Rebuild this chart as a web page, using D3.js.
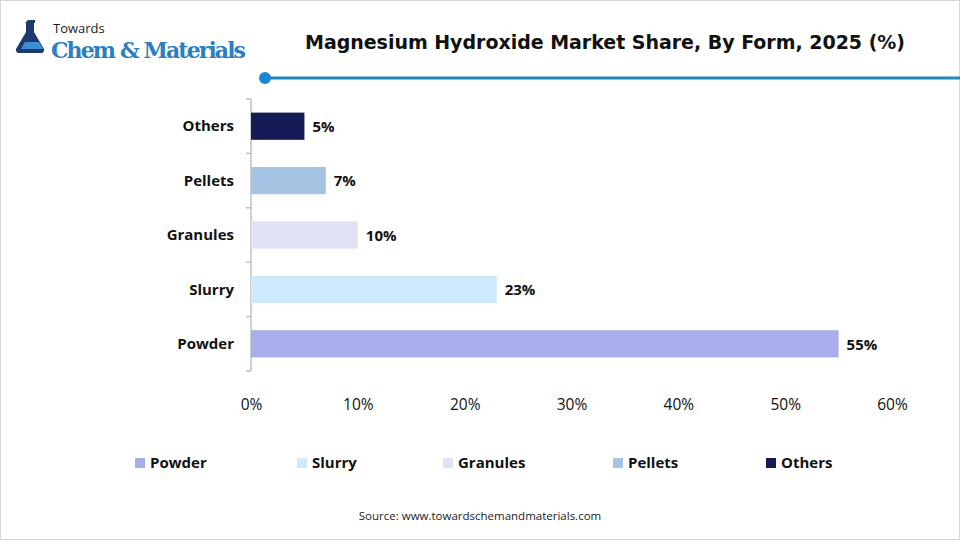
<!DOCTYPE html>
<html>
<head>
<meta charset="utf-8">
<script src="https://cdn.jsdelivr.net/npm/d3@7"></script>
<style>
  body { margin: 0; background: #fff; }
  svg { display: block; font-family: "Open Sans", "DejaVu Sans", sans-serif; }
</style>
</head>
<body>
<div id="chart"></div>
<script>
// Data
const categories = ["Others", "Pellets", "Granules", "Slurry", "Powder"];
const shares = [5, 7, 10, 23, 55];
const barColors = ["#141b56", "#a5c4e4", "#dfe1f5", "#cde9fa", "#a9aeeb"];
const legendOrder = ["Powder", "Slurry", "Granules", "Pellets", "Others"];
const xTicks = [0, 10, 20, 30, 40, 50, 60];

const W = 960, H = 540;
const svg = d3.select("#chart").append("svg")
  .attr("width", W).attr("height", H);

// outer frame
svg.append("rect")
  .attr("x", 0.5).attr("y", 0.5)
  .attr("width", W - 1).attr("height", H - 1)
  .attr("fill", "#fff").attr("stroke", "#d9d9d9");

// ---------- logo ----------
const logo = svg.append("g").attr("transform", "translate(18,18)");
logo.append("path")
  .attr("d", "M10,2 h7 v3 h-1 v9 l10,17 a3,3 0 0 1 -3,4 h-22 a3,3 0 0 1 -3,-4 l10,-17 v-9 h-1 z")
  .attr("fill", "#1d3a6e");
logo.append("path")
  .attr("d", "M7,24 h14 l4,7 h-22 z")
  .attr("fill", "#3d8fd1");
logo.append("text")
  .attr("x", 35).attr("y", 15)
  .attr("font-size", 13).attr("fill", "#222")
  .attr("font-family", "'Open Sans', sans-serif")
  .text("Towards");
logo.append("text")
  .attr("x", 33).attr("y", 40)
  .attr("font-size", 22).attr("font-weight", "bold").attr("fill", "#2a7fc1")
  .attr("font-family", "'DejaVu Serif', 'Liberation Serif', serif")
  .attr("textLength", 195)
  .text("Chem & Materials");

// ---------- title ----------
svg.append("text")
  .attr("x", 605).attr("y", 49)
  .attr("text-anchor", "middle")
  .attr("font-size", 19).attr("font-weight", "bold").attr("fill", "#111")
  .attr("font-family", "'DejaVu Sans', Verdana, sans-serif")
  .attr("textLength", 600)
  .text("Magnesium Hydroxide Market Share, By Form, 2025 (%)");

// decorative rule under the title
svg.append("line")
  .attr("x1", 265).attr("x2", W).attr("y1", 78).attr("y2", 78)
  .attr("stroke", "#2386b8").attr("stroke-width", 3);
svg.append("circle")
  .attr("cx", 265).attr("cy", 78).attr("r", 6)
  .attr("fill", "#1689d6");

// ---------- plot ----------
const plot = { left: 251, right: 892, top: 99, bottom: 371 };

const x = d3.scaleLinear()
  .domain([0, 60])
  .range([plot.left, plot.right]);

const y = d3.scaleBand()
  .domain(categories)
  .range([plot.top, plot.bottom])
  .paddingInner(0.5)
  .paddingOuter(0.25);

const color = d3.scaleOrdinal().domain(categories).range(barColors);

// y axis line + tick marks at band boundaries
svg.append("line")
  .attr("x1", plot.left).attr("x2", plot.left)
  .attr("y1", plot.top).attr("y2", plot.bottom)
  .attr("stroke", "#bfbfbf").attr("stroke-width", 1.5);

const bounds = d3.range(categories.length + 1).map(i => plot.top + i * (plot.bottom - plot.top) / categories.length);
svg.selectAll(".ytick")
  .data(bounds)
  .enter().append("line")
  .attr("x1", plot.left - 5).attr("x2", plot.left)
  .attr("y1", d => d).attr("y2", d => d)
  .attr("stroke", "#bfbfbf").attr("stroke-width", 1.5);

// category labels
svg.selectAll(".ylab")
  .data(categories)
  .enter().append("text")
  .attr("x", plot.left - 17)
  .attr("y", d => y(d) + y.bandwidth() / 2)
  .attr("dy", "0.35em")
  .attr("text-anchor", "end")
  .attr("font-size", 15).attr("font-weight", "bold").attr("fill", "#111")
  .text(d => d);

// bars
const rows = categories.map((c, i) => ({ name: c, value: shares[i] }));
svg.selectAll(".bar")
  .data(rows)
  .enter().append("rect")
  .attr("x", x(0))
  .attr("y", d => y(d.name))
  .attr("width", d => x(d.value) - x(0))
  .attr("height", y.bandwidth())
  .attr("fill", d => color(d.name));

// value labels
svg.selectAll(".val")
  .data(rows)
  .enter().append("text")
  .attr("x", d => x(d.value) + 8)
  .attr("y", d => y(d.name) + y.bandwidth() / 2)
  .attr("dy", "0.38em")
  .attr("font-size", 15).attr("font-weight", "bold").attr("fill", "#111")
  .text(d => d.value + "%");

// x axis labels (no line)
const xAxis = svg.append("g")
  .attr("transform", `translate(0,${plot.bottom + 25})`)
  .call(d3.axisBottom(x).tickValues(xTicks).tickFormat(d => d + "%").tickSize(0));
xAxis.select(".domain").remove();
xAxis.selectAll("text")
  .attr("font-size", 15.5).attr("fill", "#111")
  .attr("font-family", "'Open Sans', 'DejaVu Sans', sans-serif");

// ---------- legend ----------
const legendX = [135, 297, 443, 613, 766];
const legend = svg.selectAll(".leg")
  .data(legendOrder)
  .enter().append("g")
  .attr("transform", (d, i) => `translate(${legendX[i]},463)`);
legend.append("rect")
  .attr("x", 0).attr("y", -5)
  .attr("width", 10).attr("height", 10)
  .attr("fill", d => color(d));
legend.append("text")
  .attr("x", 15).attr("dy", "0.35em")
  .attr("font-size", 15).attr("font-weight", "bold").attr("fill", "#111")
  .text(d => d);

// source
svg.append("text")
  .attr("x", 480).attr("y", 520)
  .attr("text-anchor", "middle")
  .attr("font-size", 11.5).attr("fill", "#222")
  .text("Source: www.towardschemandmaterials.com");
</script>
</body>
</html>
